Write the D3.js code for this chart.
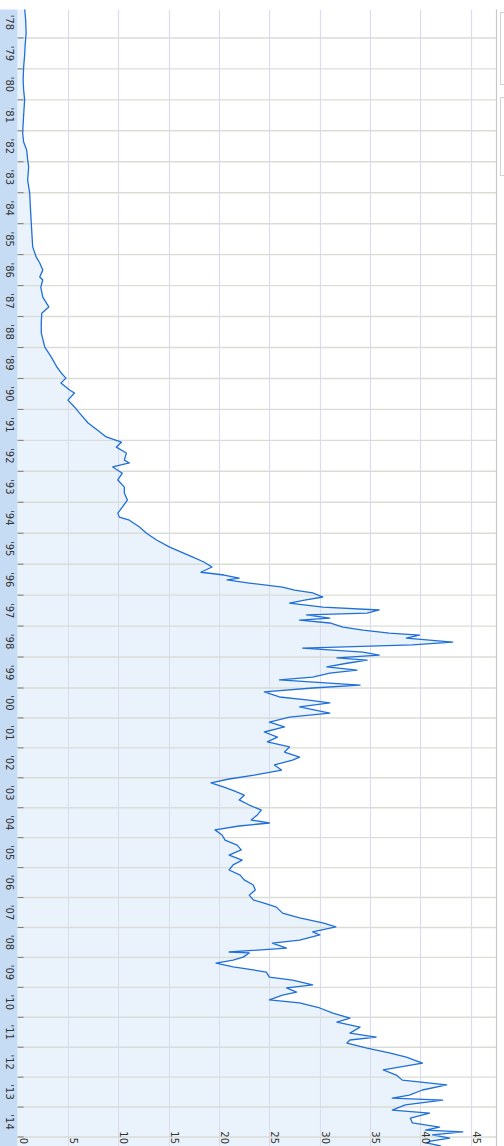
<!DOCTYPE html>
<html>
<head>
<meta charset="utf-8">
<script src="https://cdn.jsdelivr.net/npm/d3@7"></script>
<style>
  html, body { margin: 0; padding: 0; background: #ffffff; }
  svg { display: block; }
  text { font-family: "DejaVu Sans", "Liberation Sans", sans-serif; font-size: 10px; fill: #333; }
</style>
</head>
<body>
<svg id="chart" width="504" height="1146"></svg>
<script>
// Price history (decimal year -> value)
const dates = [
  1978.06, 1978.42, 1978.84, 1979.23, 1979.55, 1979.94, 1980.36, 1980.68, 1981.00, 1981.49,
  1982.07, 1982.36, 1982.62, 1982.94, 1983.17, 1983.59, 1984.01, 1984.66, 1985.21, 1985.75,
  1986.08, 1986.27, 1986.50, 1986.72, 1986.82, 1987.05, 1987.37, 1987.69, 1987.89, 1988.21,
  1988.53, 1988.99, 1989.31, 1989.63, 1989.83, 1989.99, 1990.15, 1990.38, 1990.47, 1990.70,
  1990.92, 1991.12, 1991.44, 1991.67, 1991.89, 1992.06, 1992.22, 1992.41, 1992.64, 1992.73,
  1992.86, 1993.06, 1993.28, 1993.51, 1993.70, 1993.93, 1994.16, 1994.35, 1994.48, 1994.58,
  1994.80, 1995.00, 1995.22, 1995.45, 1995.61, 1995.77, 1995.93, 1996.09, 1996.26, 1996.35,
  1996.45, 1996.51, 1996.61, 1996.74, 1996.84, 1996.93, 1997.06, 1997.16, 1997.26, 1997.39,
  1997.48, 1997.58, 1997.64, 1997.74, 1997.81, 1997.90, 1998.03, 1998.13, 1998.23, 1998.29,
  1998.39, 1998.52, 1998.61, 1998.71, 1998.84, 1998.94, 1999.03, 1999.10, 1999.20, 1999.32,
  1999.42, 1999.52, 1999.65, 1999.74, 1999.91, 2000.00, 2000.13, 2000.30, 2000.40, 2000.50,
  2000.63, 2000.84, 2000.97, 2001.14, 2001.30, 2001.47, 2001.64, 2001.80, 2001.97, 2002.14,
  2002.31, 2002.41, 2002.57, 2002.74, 2002.91, 2003.04, 2003.17, 2003.31, 2003.44, 2003.58,
  2003.74, 2003.91, 2004.08, 2004.24, 2004.41, 2004.51, 2004.61, 2004.74, 2004.91, 2005.08,
  2005.25, 2005.41, 2005.58, 2005.75, 2005.91, 2006.08, 2006.25, 2006.41, 2006.58, 2006.75,
  2006.92, 2007.08, 2007.18, 2007.32, 2007.52, 2007.68, 2007.85, 2007.98, 2008.15, 2008.25,
  2008.42, 2008.52, 2008.69, 2008.82, 2008.85, 2008.99, 2009.09, 2009.19, 2009.32, 2009.42,
  2009.49, 2009.66, 2009.76, 2009.92, 2010.02, 2010.16, 2010.26, 2010.42, 2010.52, 2010.69,
  2010.86, 2011.03, 2011.16, 2011.33, 2011.53, 2011.66, 2011.76, 2011.86, 2012.03, 2012.19,
  2012.33, 2012.53, 2012.76, 2012.93, 2013.10, 2013.26, 2013.43, 2013.60, 2013.70, 2013.77,
  2013.93, 2014.10, 2014.20, 2014.37, 2014.53, 2014.67, 2014.77, 2014.83, 2014.93, 2015.04,
  2015.14, 2015.20, 2015.30, 2015.40
];
const values = [
  0.70, 0.80, 0.85, 0.75, 0.70, 0.60, 0.55, 0.60, 0.70, 0.60,
  0.50, 0.60, 0.90, 1.00, 1.10, 1.00, 1.20, 1.30, 1.40, 1.50,
  1.85, 2.20, 2.50, 2.20, 2.50, 2.30, 2.50, 3.10, 2.40, 2.35,
  2.35, 2.70, 3.35, 3.90, 4.35, 4.80, 4.30, 5.20, 5.65, 5.00,
  5.65, 6.15, 7.00, 7.95, 8.80, 10.3, 9.80, 10.8, 10.6, 11.1,
  9.45, 10.4, 9.95, 10.6, 10.6, 10.9, 10.4, 9.95, 10.1, 11.1,
  12.1, 12.8, 13.8, 15.1, 16.25, 17.4, 18.5, 19.3, 18.2, 20.5,
  22.0, 20.8, 23.0, 26.3, 27.5, 29.3, 30.3, 28.5, 27.0, 30.3,
  35.9, 34.7, 28.7, 31.0, 28.0, 31.0, 32.3, 34.3, 36.9, 39.9,
  38.6, 43.2, 39.2, 28.3, 34.3, 35.9, 31.7, 34.7, 32.7, 30.7,
  33.7, 31.0, 29.3, 26.0, 34.0, 29.3, 24.5, 26.0, 28.7, 31.0,
  28.0, 31.0, 27.0, 25.0, 26.5, 24.5, 25.8, 24.8, 27.0, 26.5,
  28.0, 27.3, 25.5, 26.2, 23.5, 21.0, 19.2, 20.5, 21.5, 22.5,
  22.0, 23.0, 24.2, 23.8, 23.2, 25.0, 22.0, 19.6, 20.3, 20.6,
  21.8, 22.2, 21.0, 22.3, 21.4, 21.0, 22.1, 22.5, 23.4, 23.6,
  23.0, 23.4, 24.4, 25.7, 26.3, 28.0, 30.3, 31.6, 29.3, 30.0,
  28.0, 25.3, 26.7, 21.0, 23.0, 22.4, 21.4, 19.7, 21.4, 23.4,
  24.7, 25.0, 27.3, 29.3, 26.7, 27.7, 26.3, 25.0, 28.0, 30.0,
  31.3, 33.0, 31.7, 34.0, 33.0, 35.6, 33.0, 32.7, 34.7, 36.9,
  38.6, 40.2, 36.3, 37.6, 38.2, 42.6, 40.2, 38.9, 37.2, 42.2,
  38.5, 37.2, 40.9, 39.0, 39.2, 41.9, 40.5, 44.2, 41.2, 42.9,
  41.0, 40.6, 42.0, 41.5
];
const yearTicks = d3.range(1978, 2016);               // year boundaries
const yearLabels = d3.range(1978, 2015).map(yr => "'" + String(yr % 100).padStart(2, "0"));
const valueTicks = [0, 5, 10, 15, 20, 25, 30, 35, 40, 45];

const W = 504, H = 1146;
const plotTop = 9.5, plotRight = 496;
const svg = d3.select("#chart");

// Time runs down the page, value runs to the right
const y = d3.scaleLinear().domain([1978, 2000, 2015]).range([7, 688, 1137]);
const x = d3.scaleLinear().domain([0, 47.5]).range([17.6, plotRight]);

const data = dates.map((d, i) => ({ t: d, v: values[i] }));

svg.append("defs").append("clipPath").attr("id", "plot-clip")
  .append("rect")
  .attr("x", x(0)).attr("y", plotTop)
  .attr("width", plotRight - x(0)).attr("height", H - plotTop);

// left label band
svg.append("rect")
  .attr("x", 0).attr("y", plotTop)
  .attr("width", x(0)).attr("height", H - plotTop)
  .attr("fill", "#c6dcf4");

const plot = svg.append("g").attr("clip-path", "url(#plot-clip)");

// area under the series
plot.append("path")
  .datum(data)
  .attr("fill", "#eaf3fc")
  .attr("d", d3.area().y(d => y(d.t)).x0(x(0)).x1(d => x(d.v)));

// value gridlines
plot.selectAll("line.vgrid")
  .data(valueTicks.slice(1))
  .join("line")
  .attr("class", "vgrid")
  .attr("x1", d => Math.round(x(d)) + 0.5).attr("x2", d => Math.round(x(d)) + 0.5)
  .attr("y1", plotTop).attr("y2", H)
  .attr("stroke", "#dcdcf0").attr("stroke-width", 1.2);

// year gridlines
plot.selectAll("line.hgrid")
  .data(yearTicks.slice(1))
  .join("line")
  .attr("class", "hgrid")
  .attr("x1", x(0)).attr("x2", plotRight)
  .attr("y1", d => y(d)).attr("y2", d => y(d))
  .attr("stroke", "#d9ddd6").attr("stroke-width", 1.4);

// series line
plot.append("path")
  .datum(data)
  .attr("fill", "none")
  .attr("stroke", "#1f6fd8")
  .attr("stroke-width", 1.3)
  .attr("stroke-linejoin", "round")
  .attr("d", d3.line().y(d => y(d.t)).x(d => x(d.v)));

// right border
svg.append("line")
  .attr("x1", plotRight + 0.5).attr("x2", plotRight + 0.5)
  .attr("y1", plotTop).attr("y2", H)
  .attr("stroke", "#c8c8c8").attr("stroke-width", 1.2);

// year ticks on the left edge
svg.selectAll("line.ytick")
  .data(yearTicks.slice(1))
  .join("line")
  .attr("class", "ytick")
  .attr("x1", x(0)).attr("x2", x(0) + 6)
  .attr("y1", d => y(d)).attr("y2", d => y(d))
  .attr("stroke", "#7a7a7a").attr("stroke-width", 1);

// year labels, centred in each year band
svg.selectAll("text.ylab")
  .data(yearLabels)
  .join("text")
  .attr("class", "ylab")
  .attr("text-anchor", "middle")
  .attr("transform", (d, i) => `translate(6,${(y(1978 + i) + y(1979 + i)) / 2}) rotate(90)`)
  .text(d => d);

// value labels along the bottom
svg.selectAll("text.vlab")
  .data(valueTicks)
  .join("text")
  .attr("class", "vlab")
  .attr("text-anchor", "end")
  .attr("transform", d => `translate(${x(d) + 2},1144) rotate(90)`)
  .text(d => d);

// legend panels at the right edge
const legendBoxes = [[12.5, 72], [97.5, 78]];
svg.selectAll("rect.legend")
  .data(legendBoxes)
  .join("rect")
  .attr("class", "legend")
  .attr("x", 500.5).attr("y", d => d[0])
  .attr("width", 30).attr("height", d => d[1])
  .attr("fill", "#ffffff").attr("stroke", "#d2d2d2");
</script>
</body>
</html>
